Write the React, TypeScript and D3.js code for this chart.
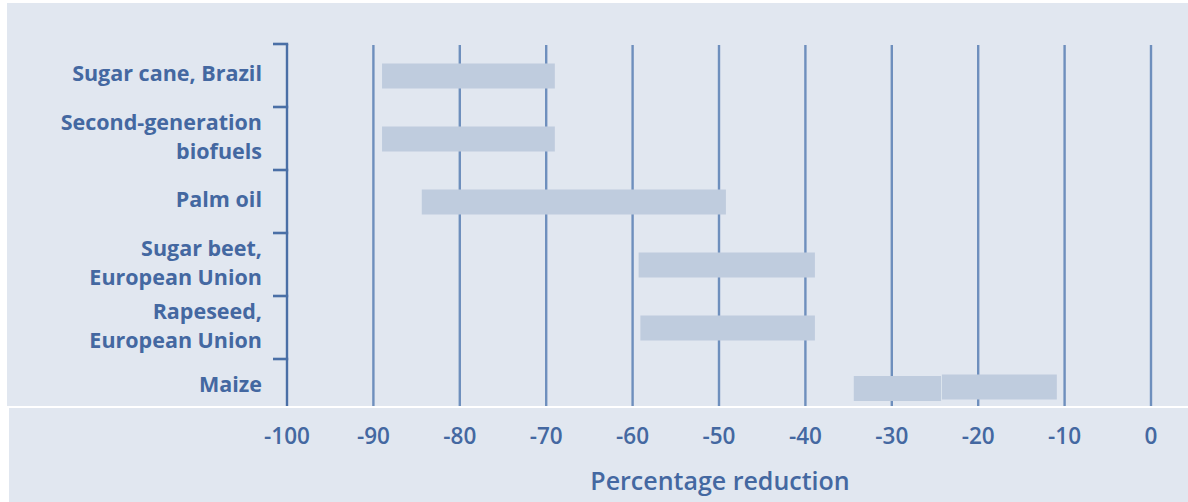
import React from "react";
import * as d3 from "d3";

const categories: string[][] = [
  ["Sugar cane, Brazil"],
  ["Second-generation", "biofuels"],
  ["Palm oil"],
  ["Sugar beet,", "European Union"],
  ["Rapeseed,", "European Union"],
  ["Maize"],
];
const barStart: number[] = [-89, -89, -84.4, -59.3, -59.1, -34.4];
const barEnd: number[] = [-69, -69, -49.2, -38.9, -38.9, -24.3];
const extraBars = [{ cat: 5, start: -24.2, end: -10.9 }];
const tickValues: number[] = [-100, -90, -80, -70, -60, -50, -40, -30, -20, -10, 0];
const xTitle = "Percentage reduction";

const W = 1188;
const H = 502;
const TEXT = "#4468a1";
const BG = "#e1e7f0";

export default function App() {
  const x = d3.scaleLinear().domain([-100, 0]).range([287, 1151]);
  const y = d3.scaleBand<number>().domain(d3.range(6)).range([44, 422]).paddingInner(0).paddingOuter(0);
  const bw = 25;
  const plotBottom = 406;
  const font = "'Open Sans', 'Noto Sans', sans-serif";
  const nudge = (i: number) => (i === 5 ? -2.5 : 0);

  return (
    <div style={{ position: "absolute", left: 0, top: 0 }}>
      <svg width={W} height={H} style={{ display: "block" }}>
        <rect x={0} y={0} width={W} height={H} fill="#ffffff" />
        <rect x={7} y={3} width={W - 7} height={plotBottom - 3} fill={BG} />
        <rect x={9} y={plotBottom + 2} width={W - 9} height={H - plotBottom - 2} fill={BG} />
        {/* gridlines */}
        {tickValues.filter((t) => t > -100).map((t) => (
          <line key={t} x1={x(t)} x2={x(t)} y1={45} y2={plotBottom} stroke="#6e8fbd" strokeWidth={2.4} />
        ))}
        {/* bars */}
        {barStart.map((s, i) => (
          <rect key={i} x={x(s)} y={y(i)! + y.bandwidth() / 2 - bw / 2 + 0.5 + nudge(i)} width={x(barEnd[i]) - x(s)} height={bw} fill="#bfccde" />
        ))}
        {extraBars.map((b, i) => (
          <rect key={"e" + i} x={x(b.start)} y={y(b.cat)! + y.bandwidth() / 2 - bw / 2 - 1 + nudge(b.cat)} width={x(b.end) - x(b.start)} height={bw} fill="#bfccde" />
        ))}
        {/* y axis bracket */}
        <line x1={x(-100)} x2={x(-100)} y1={44} y2={plotBottom} stroke="#4a6fa6" strokeWidth={2.4} />
        {d3.range(6).map((i) => (
          <line key={i} x1={273} x2={x(-100) + 1.2} y1={y(i)!} y2={y(i)!} stroke="#4a6fa6" strokeWidth={2.6} />
        ))}
        {/* category labels */}
        {categories.map((lines, i) => {
          const cy = y(i)! + y.bandwidth() / 2 - 2 + nudge(i) * 1.5;
          const lh = 29;
          const y0 = cy - ((lines.length - 1) * lh) / 2;
          return (
            <text key={i} textAnchor="end" fontFamily={font} fontWeight={700} fontSize={21.5} fill={TEXT}>
              {lines.map((l, j) => (
                <tspan key={j} x={262} y={y0 + j * lh} dy="0.35em">{l}</tspan>
              ))}
            </text>
          );
        })}
        {/* white separator */}
        <line x1={7} x2={W} y1={plotBottom + 1} y2={plotBottom + 1} stroke="#ffffff" strokeWidth={2} />
        {/* x tick labels */}
        {tickValues.map((t) => (
          <text key={t} x={x(t)} y={436} dy="0.35em" textAnchor="middle" fontFamily={font} fontWeight={600} fontSize={22.5} fill={TEXT}>
            {t}
          </text>
        ))}
        <text x={720} y={481} dy="0.35em" textAnchor="middle" fontFamily={font} fontWeight={600} fontSize={25} fill={TEXT}>
          {xTitle}
        </text>
      </svg>
    </div>
  );
}
